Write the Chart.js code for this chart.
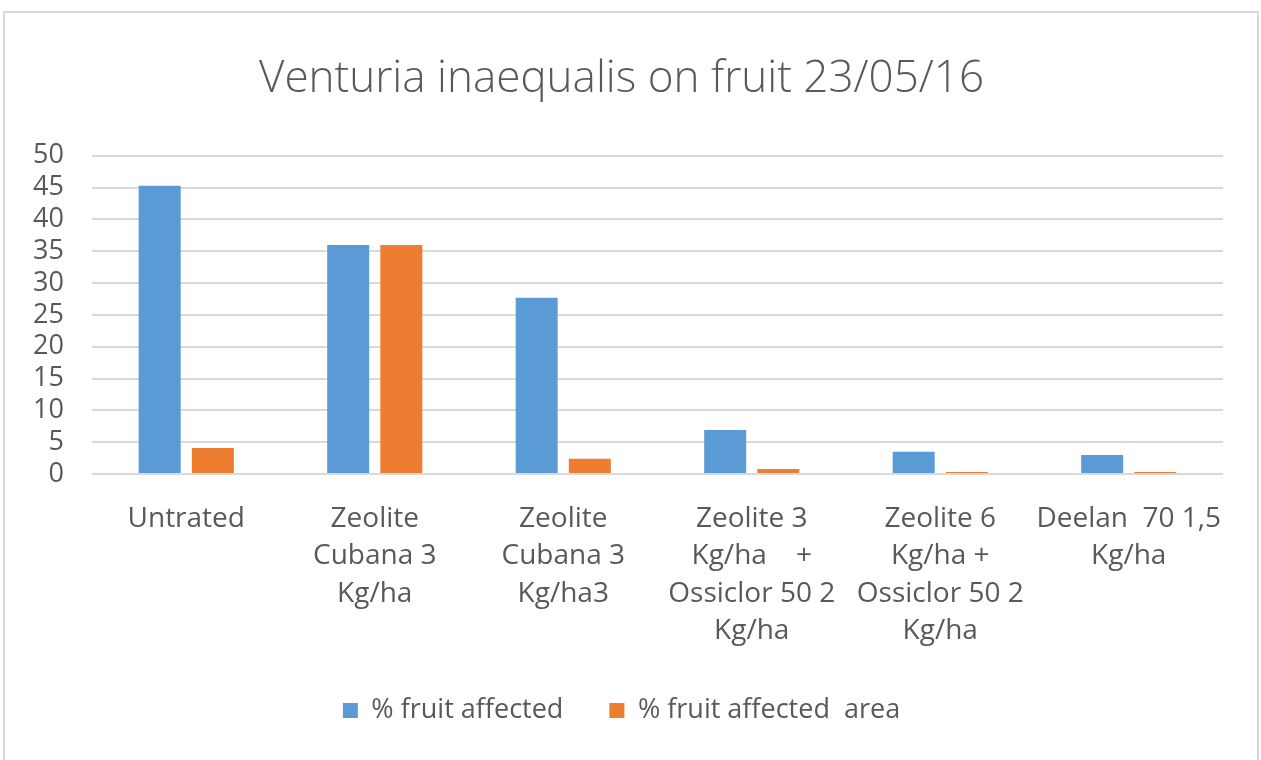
<!DOCTYPE html>
<html>
<head>
<meta charset="utf-8">
<script src="https://cdn.jsdelivr.net/npm/chart.js@4"></script>
<style>
  html, body { margin: 0; padding: 0; background: #fff; overflow: hidden; }
  #frame {
    position: absolute; left: 3px; top: 11px; width: 1256px; height: 760px;
    border: 2px solid #d9d9d9; box-sizing: border-box;
  }
  #wrap { position: absolute; left: 0; top: 0; width: 1261px; height: 760px; }
</style>
</head>
<body>
<div id="frame"></div>
<div id="wrap"><canvas id="grafico"></canvas></div>
<script>
// ===============================
// DATA
// ===============================
const categorias = [
  ["Untrated"],
  ["Zeolite", "Cubana 3", "Kg/ha"],
  ["Zeolite", "Cubana 3", "Kg/ha3"],
  ["Zeolite 3", "Kg/ha    +", "Ossiclor 50 2", "Kg/ha"],
  ["Zeolite 6", "Kg/ha +", "Ossiclor 50 2", "Kg/ha"],
  ["Deelan  70 1,5", "Kg/ha"]
];
const fruitAffected = [45.3, 36.0, 27.7, 6.9, 3.5, 3.0];
const fruitArea = [4.1, 36.0, 2.4, 0.8, 0.3, 0.3];
const ticksY = [0, 5, 10, 15, 20, 25, 30, 35, 40, 45, 50];

const fuente = "'Open Sans', 'Liberation Sans', sans-serif";
const gris = "#595959";

// ===============================
// CHART
// ===============================
const ctx = document.getElementById("grafico");

new Chart(ctx, {
  type: "bar",
  data: {
    labels: categorias,
    datasets: [
      {
        label: "% fruit affected",
        data: fruitAffected,
        backgroundColor: "#5b9bd5"
      },
      {
        label: "% fruit affected  area",
        data: fruitArea,
        backgroundColor: "#ed7d31"
      }
    ]
  },
  options: {
    responsive: true,
    maintainAspectRatio: false,
    animation: false,
    layout: { padding: { left: 20, right: 38, top: 53, bottom: 26 } },
    datasets: {
      bar: { categoryPercentage: 0.564, barPercentage: 0.79 }
    },
    plugins: {
      title: {
        display: true,
        text: "Venturia inaequalis on fruit 23/05/16",
        color: gris,
        font: { family: fuente, size: 44, weight: "300" },
        padding: { top: 0, bottom: 50 }
      },
      legend: {
        position: "bottom",
        labels: {
          color: gris,
          font: { family: fuente, size: 27 },
          boxWidth: 15,
          boxHeight: 15,
          padding: 46
        }
      },
      tooltip: { enabled: false }
    },
    scales: {
      x: {
        grid: { display: false },
        border: { display: false },
        afterFit: axis => { axis.height = 177; },
        ticks: {
          color: gris,
          font: { family: fuente, size: 28, lineHeight: 1.34 },
          maxRotation: 0,
          autoSkip: false,
          padding: 18
        }
      },
      y: {
        min: 0,
        max: 50,
        afterBuildTicks: axis => { axis.ticks = ticksY.map(v => ({ value: v })); },
        afterFit: axis => { axis.width = 72; },
        grid: { color: "#d9d9d9", lineWidth: 2, drawTicks: false },
        border: { display: false },
        ticks: {
          color: gris,
          font: { family: fuente, size: 27 },
          autoSkip: false,
          padding: 28
        }
      }
    }
  }
});
</script>
</body>
</html>
